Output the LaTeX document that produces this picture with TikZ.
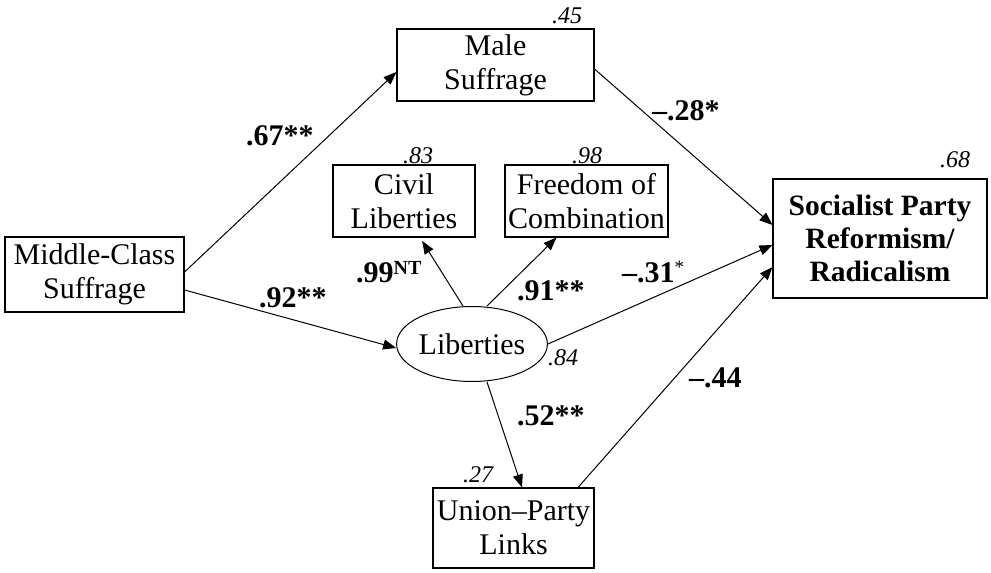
\documentclass[tikz,border=0pt]{standalone}
\usepackage{fontspec}
\setmainfont{Liberation Serif}
\usetikzlibrary{arrows.meta,shapes.geometric}
\begin{document}
\begin{tikzpicture}[x=1pt,y=-1pt,
  box/.style={draw,line width=1.1pt,rectangle,inner sep=0pt,align=center,font=\fontsize{30}{34}\selectfont},
  oval/.style={draw,line width=1pt,ellipse,inner sep=0pt,font=\fontsize{30}{34}\selectfont},
  path/.style={line width=1pt,-{Triangle[length=13pt,width=10pt]}},
  coef/.style={anchor=base west,inner sep=0pt,font=\fontsize{30}{34}\selectfont\bfseries},
  rsq/.style={anchor=base west,inner sep=0pt,font=\fontsize{24}{26}\selectfont\itshape}]
\useasboundingbox (0,0) rectangle (991,573);
\node[box,minimum width=179pt,minimum height=75pt] (mcs) at (94.5,274.5) {Middle-Class\\Suffrage};
\node[box,minimum width=197pt,minimum height=72pt] (male) at (495.5,65) {Male\\Suffrage};
\node[box,minimum width=142pt,minimum height=72pt] (civil) at (404,201) {Civil\\Liberties};
\node[box,minimum width=163pt,minimum height=72pt] (free) at (586.5,201) {Freedom of\\Combination};
\node[box,minimum width=214pt,minimum height=119pt,font=\fontsize{29.5}{33}\selectfont\bfseries] (soc) at (880,238.5) {Socialist Party\\Reformism/\\Radicalism};
\node[box,minimum width=161pt,minimum height=80pt] (union) at (513.5,528) {Union–Party\\Links};
\node[oval,minimum width=150pt,minimum height=75pt] (lib) at (472,344) {Liberties};

\draw[path] ([yshift=2.5pt]mcs.east) -- ([yshift=-7pt]male.west);
\draw[path] ([yshift=-15.5pt]mcs.east) -- ([yshift=-4pt]lib.west);
\draw[path,shorten >=4pt] ([xshift=-9pt]lib.north) -- ([xshift=16pt]civil.south);
\draw[path] ([xshift=15pt]lib.north) -- ([xshift=-30pt]free.south);
\draw[path] (lib.east) -- ([yshift=-6.5pt]soc.west);
\draw[path] ([yshift=-4pt]male.east) -- ([yshift=13.5pt]soc.west);
\draw[path] ([xshift=15pt]lib.south) -- ([xshift=8.5pt]union.north);
\draw[path] ([xshift=64.5pt]union.north) -- ([yshift=-28.5pt]soc.west);

\node[coef] (c67) at (246,145) {.67**};
\node[coef] (c92) at (259,307) {.92**};
\node[coef] (c99) at (356,282) {.99\raisebox{0.55ex}{\fontsize{20}{22}\selectfont NT}};
\node[coef] (c91) at (517,300) {.91**};
\node[coef] (c31) at (622,282) {–.31\raisebox{0.6ex}{\fontsize{19}{21}\selectfont\mdseries *}};
\node[coef] (c28) at (652,120) {–.28*};
\node[coef] (c44) at (689,387) {–.44};
\node[coef] (c52) at (517,425) {.52**};

\node[rsq] (r45) at (552,23) {.45};
\node[rsq] (r83) at (403,163) {.83};
\node[rsq] (r98) at (572,163) {.98};
\node[rsq] (r68) at (940,167) {.68};
\node[rsq] (r84) at (548,365) {.84};
\node[rsq] (r27) at (463,482) {.27};
\end{tikzpicture}
\end{document}
